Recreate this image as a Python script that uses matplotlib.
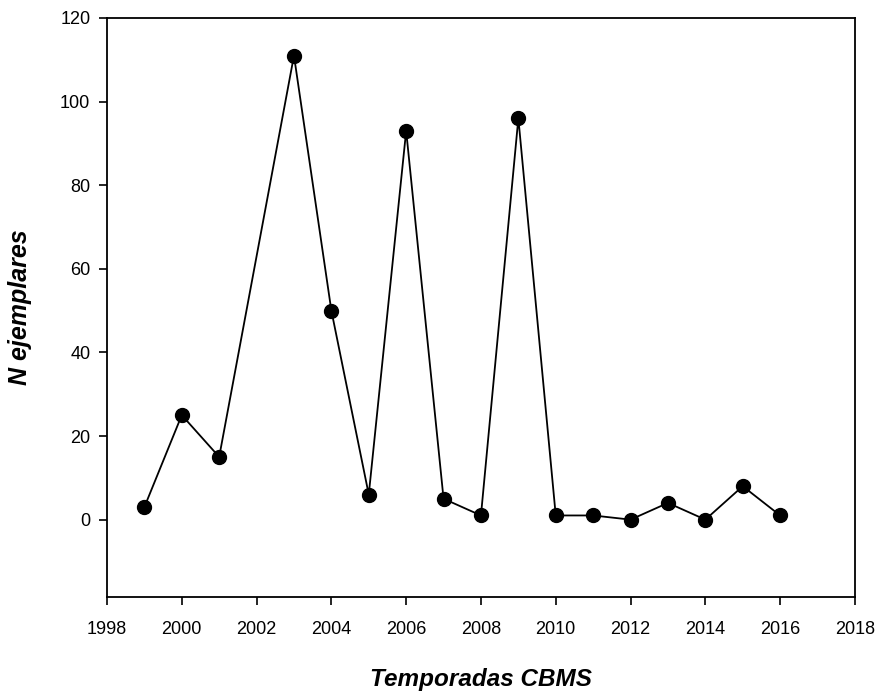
import matplotlib
matplotlib.use("Agg")
import matplotlib.pyplot as plt

plt.rcParams['font.family'] = ['Liberation Sans', 'DejaVu Sans']

years = [1999, 2000, 2001, 2003, 2004, 2005, 2006, 2007, 2008, 2009,
         2010, 2011, 2012, 2013, 2014, 2015, 2016]
counts = [3, 25, 15, 111, 50, 6, 93, 5, 1, 96, 1, 1, 0, 4, 0, 8, 1]

xticks = list(range(1998, 2019, 2))
yticks = list(range(0, 121, 20))

fig = plt.figure(figsize=(8.82, 6.97), dpi=100)
ax = fig.add_axes([0.1213, 0.1435, 0.848, 0.8307])

ax.plot(years, counts, color='black', lw=1.3, marker='o', ms=10,
        mfc='black', mec='black')

ax.set_xlim(1998, 2018)
ax.set_ylim(-18.5, 120)
ax.set_xticks(xticks)
ax.set_yticks(yticks)
ax.tick_params(direction='out', length=6, width=1.2, labelsize=13)
ax.tick_params(axis='x', pad=11)
ax.tick_params(axis='y', pad=6)
for s in ax.spines.values():
    s.set_linewidth(1.3)

ax.set_xlabel('Temporadas CBMS', fontsize=17.5, fontweight='bold',
              style='italic', labelpad=22)
ax.set_ylabel('N ejemplares', fontsize=18, fontweight='bold',
              style='italic', labelpad=20)

fig.savefig('out.png', dpi=100)
